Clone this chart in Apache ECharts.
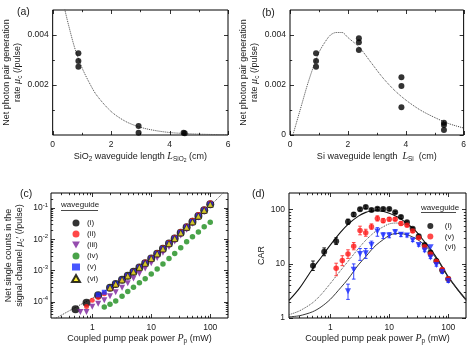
<!DOCTYPE html>
<html lang="en">
<head>
<meta charset="UTF-8" />
<title>Photon pair generation in Si waveguides</title>
<script src="https://cdn.jsdelivr.net/npm/echarts@6.0.0/dist/echarts.min.js"></script>
<style>
  html, body { margin: 0; padding: 0; background: #fff; }
  #chart { width: 469px; height: 347px; }
</style>
</head>
<body>
<div id="chart"></div>
<script>
// (a) SiO2 waveguide length
const aLen = [0.88, 0.88, 0.88, 2.94, 2.94, 4.48, 4.52];
const aRate = [0.00327, 0.00296, 0.00273, 0.00036, 0.00009, 0.00009, 0.00007];
const aFitLen = [0.4, 0.5, 0.75, 1.0, 1.25, 1.5, 2.0, 2.5, 3.0, 3.5, 4.0, 4.5, 5.0, 5.5, 6.0];
const aFitRate = [0.0051, 0.0046, 0.0035, 0.0027, 0.0021, 0.0016, 0.00094, 0.00054, 0.00031, 0.00018, 0.0001, 0.00006, 0.000035, 0.00002, 0.00001];

// (b) Si waveguide length
const bLen = [0.9, 0.9, 0.9, 2.38, 2.38, 2.38, 3.85, 3.85, 3.85, 5.32, 5.32, 5.32];
const bRate = [0.00327, 0.00296, 0.00273, 0.00387, 0.00371, 0.0034, 0.00231, 0.00196, 0.00111, 0.00049, 0.0004, 0.0002];
const bFitLen = [0.1, 0.2, 0.4, 0.6, 0.8, 1.0, 1.2, 1.4, 1.6, 1.8, 2.0, 2.4, 2.8, 3.2, 3.6, 4.0, 4.5, 5.0, 5.5, 6.0];
const bFitRate = [0, 0.0004, 0.0012, 0.002, 0.0027, 0.0033, 0.0037, 0.004, 0.0041, 0.0041, 0.0039, 0.0035, 0.0029, 0.0023, 0.0018, 0.0014, 0.001, 0.0007, 0.00045, 0.00028];

// (c) single counts vs pump power
const cP1 = [0.52, 0.8, 1.26, 2.0, 2.5, 3.2, 4.0, 5.0, 6.3, 7.9, 10, 12.6, 15.8, 20, 25, 31.6, 39.8, 50, 63, 79, 100];
const cS1 = [5.7e-5, 9.3e-5, 1.6e-4, 2.8e-4, 3.7e-4, 5.0e-4, 6.7e-4, 9.0e-4, 1.25e-3, 1.7e-3, 2.4e-3, 3.4e-3, 4.9e-3, 7.2e-3, 1.05e-2, 1.6e-2, 2.4e-2, 3.6e-2, 5.5e-2, 8.4e-2, 0.13];
const cP2 = [0.8, 1.0, 1.26, 1.6, 2.0, 2.5, 3.2, 4.0, 5.0, 6.3, 7.9, 10, 12.6, 15.8, 20, 25, 31.6, 39.8, 50, 63, 79, 100];
const cS2 = [7e-5, 1.1e-4, 1.35e-4, 1.8e-4, 2.6e-4, 3.5e-4, 4.9e-4, 6.8e-4, 9.4e-4, 1.3e-3, 1.85e-3, 2.6e-3, 3.7e-3, 5.3e-3, 7.8e-3, 1.15e-2, 1.75e-2, 2.65e-2, 4.0e-2, 6.1e-2, 9.3e-2, 0.145];
const cP3 = [0.63, 0.8, 1.0, 1.26, 1.6, 2.0, 2.5, 3.2, 4.0, 5.0, 6.3, 7.9, 10, 12.6, 15.8, 20, 25, 31.6, 39.8, 50, 63, 79, 100];
const cS3 = [4.7e-5, 4.7e-5, 6.9e-5, 8.5e-5, 1.1e-4, 1.5e-4, 2.0e-4, 2.8e-4, 3.9e-4, 5.5e-4, 7.8e-4, 1.15e-3, 1.7e-3, 2.5e-3, 3.7e-3, 5.6e-3, 8.4e-3, 1.3e-2, 2.0e-2, 3.1e-2, 4.8e-2, 7.5e-2, 0.12];
const cP4 = [1.6, 2.0, 2.5, 3.2, 4.0, 5.0, 6.3, 7.9, 10, 12.6, 15.8, 20, 25, 31.6, 39.8, 50, 63, 79, 100];
const cS4 = [6.7e-5, 8.2e-5, 1.05e-4, 1.5e-4, 2.1e-4, 2.9e-4, 4.0e-4, 5.4e-4, 7.7e-4, 1.1e-3, 1.6e-3, 2.4e-3, 3.5e-3, 5.3e-3, 8.2e-3, 1.2e-2, 1.7e-2, 2.5e-2, 3.5e-2];
const cP5 = [1.26, 1.6, 2.0, 2.5, 3.2, 4.0, 5.0, 6.3, 7.9, 10, 12.6, 15.8, 20, 25, 31.6, 39.8, 50, 63, 79, 100];
const cS5 = [1.65e-4, 2.0e-4, 2.8e-4, 3.7e-4, 5.0e-4, 6.8e-4, 9.1e-4, 1.26e-3, 1.72e-3, 2.45e-3, 3.45e-3, 5.0e-3, 7.3e-3, 1.07e-2, 1.62e-2, 2.45e-2, 3.65e-2, 5.6e-2, 8.5e-2, 0.132];
const cP6 = [2.0, 2.5, 3.2, 4.0, 5.0, 6.3, 7.9, 10, 12.6, 15.8, 20, 25, 31.6, 39.8, 50, 63, 79, 100];
const cS6 = [2.8e-4, 3.7e-4, 5.0e-4, 6.7e-4, 9.0e-4, 1.25e-3, 1.7e-3, 2.4e-3, 3.4e-3, 4.9e-3, 7.2e-3, 1.05e-2, 1.6e-2, 2.4e-2, 3.6e-2, 5.5e-2, 8.4e-2, 0.13];
const cFitP = [0.2, 0.3, 0.5, 0.7, 1, 1.5, 2, 3, 5, 7, 10, 15, 20, 30, 50, 70, 100, 150, 200];
const cFitS = [2.4e-5, 3.7e-5, 6.3e-5, 8.9e-5, 1.3e-4, 2.0e-4, 2.8e-4, 4.5e-4, 8.6e-4, 1.35e-3, 2.25e-3, 4.2e-3, 6.6e-3, 1.3e-2, 3.2e-2, 6.0e-2, 0.117, 0.25, 0.43];
const cNames = ['(i)', '(ii)', '(iii)', '(iv)', '(v)', '(vi)'];

// (d) CAR vs pump power
const dP1 = [0.51, 0.79, 1.26, 2.0, 2.5, 3.2, 4.0, 5.0, 6.3, 7.9, 10, 12.6, 15.8, 20, 25, 31.6, 39.8, 50, 63, 79, 100];
const dC1 = [9.2, 16.6, 26, 59, 80, 100, 110, 97, 103, 101, 101, 88, 72, 58, 44, 32, 22, 16, 11.2, 7.6, 5.2];
const dLo1 = [7.5, 14, 22.5, 53, 74, 94, 104, 92, 98, 96, 96, 84, 68, 55, 42, 30.5, 21, 15.3, 10.7, 7.2, 4.9];
const dHi1 = [11.2, 19.5, 30, 66, 87, 106, 116, 102, 108, 106, 106, 92, 76, 61, 46, 33.5, 23, 16.7, 11.7, 8, 5.5];
const dP2 = [1.26, 1.6, 2.0, 2.5, 3.2, 4.0, 5.0, 6.3, 7.9, 10, 12.6, 15.8, 20, 25, 31.6, 39.8, 50, 63, 79, 100];
const dC2 = [8.2, 11.5, 15, 21, 41, 37, 48, 68, 62, 66, 66, 55, 51, 40, 30, 20.5, 15, 11, 7.8, 5.3];
const dLo2 = [6.0, 9.2, 12.5, 18, 34, 32, 43, 61, 57, 61, 62, 51, 48, 37.5, 28.5, 19.5, 14.3, 10.5, 7.4, 5.0];
const dHi2 = [10.2, 14, 18, 24.5, 49, 43, 54, 76, 68, 71, 70, 59, 54, 42.5, 31.5, 21.5, 15.7, 11.5, 8.2, 5.6];
const dP3 = [2.0, 2.5, 3.2, 4.0, 5.0, 6.3, 7.9, 10, 12.6, 15.8, 20, 25, 31.6, 39.8, 50, 63, 79, 100];
const dC3 = [3.1, 7.7, 15, 15.5, 22, 39, 33, 33, 38, 34, 33, 27, 22, 17.5, 13, 9.5, 7, 4.8];
const dLo3 = [2.2, 5.2, 11.5, 12.5, 19, 32, 29, 30, 35, 31.5, 31, 25.5, 21, 16.6, 12.4, 9.0, 6.6, 4.5];
const dHi3 = [4.2, 9.9, 19, 19, 26, 46, 37, 37, 42, 37, 35.5, 28.5, 23, 18.4, 13.6, 10, 7.4, 5.1];
const dFitP = [0.2, 0.3, 0.5, 0.7, 1, 1.5, 2, 3, 4, 5, 6, 8, 10, 13, 15, 20, 25, 30, 40, 50, 70, 100, 150, 200];
const dFit1 = [2.1, 3.5, 8, 13, 22, 38, 53, 75, 88, 93, 94, 91, 85, 75, 69, 55, 45, 37, 25, 18.5, 11, 5.8, 3.2, 2.2];
const dFit2 = [1.15, 1.35, 1.9, 2.7, 4.3, 7.5, 11, 19, 27, 34, 40, 48, 54, 56, 55, 50, 44, 36, 24.5, 18, 10.7, 5.7, 3.2, 2.2];
const dFit3 = [1.05, 1.1, 1.3, 1.6, 2.2, 3.6, 5.2, 9.5, 13.5, 18, 22, 28, 33, 36, 36, 34, 31, 28, 22, 17, 10.5, 5.6, 3.1, 2.1];
const dNames = ['(i)', '(v)', '(vi)'];

// tick labels
const linXLabels = [0, 2, 4, 6];
const aYLabels = [0.002, 0.004];
const bYLabels = [0, 0.002, 0.004];
const powLabels = [1, 10, 100];
const cYLabels = [1e-4, 1e-3, 1e-2, 1e-1];
const dYLabels = [1, 10, 100];

const TXT = '#1a1a1a';
const FONT = 'Liberation Sans';
const SERIF = 'Liberation Serif';
const DOWN_TRI = 'path://M0,0L10,0L5,9Z';
const rich = {
  n: { fontFamily: FONT, fontSize: 9, color: TXT },
  it: { fontFamily: SERIF, fontStyle: 'italic', fontSize: 10, color: TXT },
  sub: { fontFamily: FONT, fontSize: 6.5, color: TXT, padding: [5, 0, 0, 0] },
  sub2: { fontFamily: FONT, fontSize: 5, color: TXT, padding: [9, 0, 0, 0] },
  b: { fontFamily: FONT, fontSize: 8.5, color: TXT },
  s: { fontFamily: FONT, fontSize: 6, color: TXT, padding: [0, 0, 6, 0] }
};

const zip = (xs, ys) => xs.map((x, i) => [x, ys[i]]);

// minor ticks for log axes: 2..9 of each decade inside (lo, hi)
function logMinors(lo, hi) {
  const out = [];
  for (let e = Math.floor(Math.log10(lo)); e <= Math.ceil(Math.log10(hi)); e++) {
    for (let m = 2; m <= 9; m++) {
      const v = m * Math.pow(10, e);
      if (v > lo * 1.001 && v < hi * 0.999) out.push(v);
    }
  }
  return out;
}

// tick marks on all four sides of a grid; flag 0 = x tick, 1 = y tick
function tickSeries(gi, xMajor, xMinor, yMajor, yMinor, xAnchor, yAnchor) {
  const data = [];
  xMajor.forEach(v => data.push([v, yAnchor, 4, 0]));
  xMinor.forEach(v => data.push([v, yAnchor, 2.2, 0]));
  yMajor.forEach(v => data.push([xAnchor, v, 4, 1]));
  yMinor.forEach(v => data.push([xAnchor, v, 2.2, 1]));
  return {
    type: 'custom', xAxisIndex: gi, yAxisIndex: gi, silent: true, clip: false, z: 6,
    encode: { x: 0, y: 1 },
    data: data,
    renderItem: function (params, api) {
      const cs = params.coordSys;
      const len = api.value(2);
      const st = { stroke: '#000', lineWidth: 0.8 };
      if (api.value(3) === 0) {
        const x = Math.round(api.coord([api.value(0), api.value(1)])[0]) + 0.5;
        return { type: 'group', children: [
          { type: 'line', shape: { x1: x, y1: cs.y + cs.height, x2: x, y2: cs.y + cs.height - len }, style: st },
          { type: 'line', shape: { x1: x, y1: cs.y, x2: x, y2: cs.y + len }, style: st }
        ] };
      }
      const y = Math.round(api.coord([api.value(0), api.value(1)])[1]) + 0.5;
      return { type: 'group', children: [
        { type: 'line', shape: { x1: cs.x, y1: y, x2: cs.x + len, y2: y }, style: st },
        { type: 'line', shape: { x1: cs.x + cs.width, y1: y, x2: cs.x + cs.width - len, y2: y }, style: st }
      ] };
    }
  };
}

function errBars(gi, xs, lo, hi, color) {
  return {
    type: 'custom', xAxisIndex: gi, yAxisIndex: gi, silent: true, z: 3,
    encode: { x: 0, y: [1, 2] },
    data: xs.map((x, i) => [x, lo[i], hi[i]]),
    renderItem: function (params, api) {
      const a = api.coord([api.value(0), api.value(1)]);
      const b = api.coord([api.value(0), api.value(2)]);
      const st = { stroke: color, lineWidth: 0.9 };
      return { type: 'group', children: [
        { type: 'line', shape: { x1: a[0], y1: a[1], x2: b[0], y2: b[1] }, style: st },
        { type: 'line', shape: { x1: a[0] - 1.8, y1: a[1], x2: a[0] + 1.8, y2: a[1] }, style: st },
        { type: 'line', shape: { x1: b[0] - 1.8, y1: b[1], x2: b[0] + 1.8, y2: b[1] }, style: st }
      ] };
    }
  };
}

function scatter(name, gi, data, opts) {
  return Object.assign({
    name: name, type: 'scatter', xAxisIndex: gi, yAxisIndex: gi, data: data, z: 4, silent: true,
    symbol: 'circle', symbolSize: 6, itemStyle: { color: '#000' }
  }, opts);
}

function curve(gi, data, lineStyle) {
  return {
    type: 'line', xAxisIndex: gi, yAxisIndex: gi, data: data, z: 2, silent: true,
    showSymbol: false, smooth: 0.3, lineStyle: lineStyle
  };
}

const hidden = { axisLine: { show: false }, axisTick: { show: false }, splitLine: { show: false } };
const nameStyle = { fontFamily: FONT, fontSize: 9, color: TXT, rich: rich, lineHeight: 11 };
const labelStyle = { fontFamily: FONT, fontSize: 8.5, color: TXT };

const linX = (gi, name) => Object.assign({
  gridIndex: gi, type: 'value', min: 0, max: 6,
  axisLabel: Object.assign({ margin: 5, customValues: linXLabels }, labelStyle),
  name: name, nameLocation: 'middle', nameGap: 16, nameTextStyle: nameStyle
}, hidden);

const logX = (gi) => Object.assign({
  gridIndex: gi, type: 'log', logBase: 10, min: 0.2, max: 200,
  axisLabel: Object.assign({ margin: 5, customValues: powLabels, formatter: v => String(Math.round(v)) }, labelStyle),
  name: 'Coupled pump peak power {it|P}{sub|p} (mW)', nameLocation: 'middle', nameGap: 13, nameTextStyle: nameStyle
}, hidden);

const chart = echarts.init(document.getElementById('chart'));

const grid = [
  { left: 51, top: 10, width: 177, height: 125 },
  { left: 290, top: 10, width: 176, height: 125 },
  { left: 51, top: 193, width: 177, height: 125 },
  { left: 289, top: 193, width: 177, height: 125 }
].map(g => Object.assign({ show: true, borderColor: '#000', borderWidth: 1, backgroundColor: 'transparent' }, g));

const option = {
  animation: false,
  textStyle: { fontFamily: FONT },
  grid: grid,
  xAxis: [
    linX(0, '{n|SiO}{sub|2}{n| waveguide length }{it|L}{sub|SiO}{sub2|2}{n| (cm)}'),
    linX(1, '{n|Si waveguide length  }{it|L}{sub|Si}{n|  (cm)}'),
    logX(2),
    logX(3)
  ],
  yAxis: [
    Object.assign({
      gridIndex: 0, type: 'value', min: 0, max: 0.005,
      axisLabel: Object.assign({ margin: 4, customValues: aYLabels, formatter: v => v.toFixed(3) }, labelStyle),
      name: 'Net photon pair generation\nrate {it|μ}{sub|c} (/pulse)', nameLocation: 'middle', nameRotate: 90, nameGap: 25, nameTextStyle: nameStyle
    }, hidden),
    Object.assign({
      gridIndex: 1, type: 'value', min: 0, max: 0.005,
      axisLabel: Object.assign({ margin: 4, customValues: bYLabels, formatter: v => v === 0 ? '0' : v.toFixed(3) }, labelStyle),
      name: 'Net photon pair generation\nrate {it|μ}{sub|c} (/pulse)', nameLocation: 'middle', nameRotate: 90, nameGap: 25, nameTextStyle: nameStyle
    }, hidden),
    Object.assign({
      gridIndex: 2, type: 'log', logBase: 10, min: 3e-5, max: 0.3,
      axisLabel: Object.assign({ margin: 3, customValues: cYLabels, rich: rich,
        formatter: v => '{b|10}{s|-' + Math.round(-Math.log10(v)) + '}' }, labelStyle),
      name: 'Net single counts in the\nsignal channel {it|μ}{sub|c}{n|\u2032} (/pulse)', nameLocation: 'middle', nameRotate: 90, nameGap: 26, nameTextStyle: nameStyle
    }, hidden),
    Object.assign({
      gridIndex: 3, type: 'log', logBase: 10, min: 1, max: 200,
      axisLabel: Object.assign({ margin: 4, customValues: dYLabels, formatter: v => String(Math.round(v)) }, labelStyle),
      name: 'CAR', nameLocation: 'middle', nameRotate: 90, nameGap: 15, nameTextStyle: nameStyle
    }, hidden)
  ],
  legend: [
    {
      orient: 'vertical', left: 66, top: 214, itemWidth: 8, itemHeight: 7, itemGap: 3,
      selectedMode: false,
      data: cNames.map(n => (n === '(iii)' ? { name: n, icon: DOWN_TRI } : n)),
      textStyle: { fontFamily: FONT, fontSize: 8, color: TXT, padding: [0, 0, 0, 2] }
    },
    {
      orient: 'vertical', left: 422, top: 217, itemWidth: 7, itemHeight: 6, itemGap: 2.6,
      selectedMode: false,
      data: dNames.map(n => (n === '(vi)' ? { name: 'd' + n, icon: DOWN_TRI } : 'd' + n)),
      formatter: n => n.slice(1),
      textStyle: { fontFamily: FONT, fontSize: 8, color: TXT, padding: [0, 0, 0, 6] }
    }
  ],
  graphic: [
    { type: 'text', left: 17, top: 7, style: { text: '(a)', font: '10.5px "Liberation Sans"', fill: TXT } },
    { type: 'text', left: 262, top: 8, style: { text: '(b)', font: '10.5px "Liberation Sans"', fill: TXT } },
    { type: 'text', left: 20, top: 189, style: { text: '(c)', font: '10.5px "Liberation Sans"', fill: TXT } },
    { type: 'text', left: 252, top: 189, style: { text: '(d)', font: '10.5px "Liberation Sans"', fill: TXT } },
    { type: 'text', left: 61, top: 201, style: { text: 'waveguide', font: '8px "Liberation Sans"', fill: TXT } },
    { type: 'line', shape: { x1: 61, y1: 210.5, x2: 98, y2: 210.5 }, style: { stroke: TXT, lineWidth: 0.8 } },
    { type: 'text', left: 421, top: 203.5, style: { text: 'waveguide', font: '8px "Liberation Sans"', fill: TXT } },
    { type: 'line', shape: { x1: 421, y1: 212.5, x2: 456, y2: 212.5 }, style: { stroke: TXT, lineWidth: 0.8 } }
  ],
  series: [
    // (a)
    curve(0, zip(aFitLen, aFitRate), { color: '#444', width: 1, type: 'dotted' }),
    scatter('a', 0, zip(aLen, aRate), { symbolSize: 6 }),
    // (b)
    curve(1, zip(bFitLen, bFitRate), { color: '#444', width: 1, type: 'dotted' }),
    scatter('b', 1, zip(bLen, bRate), { symbolSize: 6 }),
    // (c)
    curve(2, zip(cFitP, cFitS), { color: '#444', width: 1, type: 'dotted' }),
    scatter('(i)', 2, zip(cP1, cS1), { symbolSize: 8, itemStyle: { color: '#000' } }),
    scatter('(ii)', 2, zip(cP2, cS2), { symbolSize: 5, itemStyle: { color: '#ff1a1a' } }),
    scatter('(iii)', 2, zip(cP3, cS3), { symbol: 'triangle', symbolRotate: 180, symbolSize: 6, itemStyle: { color: '#7a1f9a' } }),
    scatter('(iv)', 2, zip(cP4, cS4), { symbolSize: 5.5, itemStyle: { color: '#1c8c1c' } }),
    scatter('(v)', 2, zip(cP5, cS5), { symbol: 'rect', symbolSize: 5, itemStyle: { color: '#1a2cff' } }),
    scatter('(vi)', 2, zip(cP6, cS6), { symbol: 'triangle', symbolSize: 6, itemStyle: { color: '#ffee00', borderColor: '#000', borderWidth: 0.6 } }),
    // (d)
    curve(3, zip(dFitP, dFit1), { color: '#111', width: 1.1, type: 'solid' }),
    curve(3, zip(dFitP, dFit2), { color: '#444', width: 1, type: 'dotted' }),
    curve(3, zip(dFitP, dFit3), { color: '#222', width: 0.9, type: 'solid' }),
    errBars(3, dP1, dLo1, dHi1, '#000'),
    errBars(3, dP2, dLo2, dHi2, '#ff3030'),
    errBars(3, dP3, dLo3, dHi3, '#2030ff'),
    scatter('d(i)', 3, zip(dP1, dC1), { symbolSize: 6, itemStyle: { color: '#000' } }),
    scatter('d(v)', 3, zip(dP2, dC2), { symbolSize: 5.5, itemStyle: { color: '#ff1a1a' } }),
    scatter('d(vi)', 3, zip(dP3, dC3), { symbol: 'triangle', symbolRotate: 180, symbolSize: 6, itemStyle: { color: '#1a2cff' } }),
    // tick marks
    tickSeries(0, linXLabels, [1, 3, 5], aYLabels, [0.001, 0.003], 0, 0),
    tickSeries(1, linXLabels, [1, 3, 5], bYLabels, [0.001, 0.003], 0, 0),
    tickSeries(2, powLabels, logMinors(0.2, 200), cYLabels, logMinors(3e-5, 0.3), 1, 1e-3),
    tickSeries(3, powLabels, logMinors(0.2, 200), dYLabels, logMinors(1, 200), 1, 10)
  ]
};

chart.setOption(option);
</script>
</body>
</html>
